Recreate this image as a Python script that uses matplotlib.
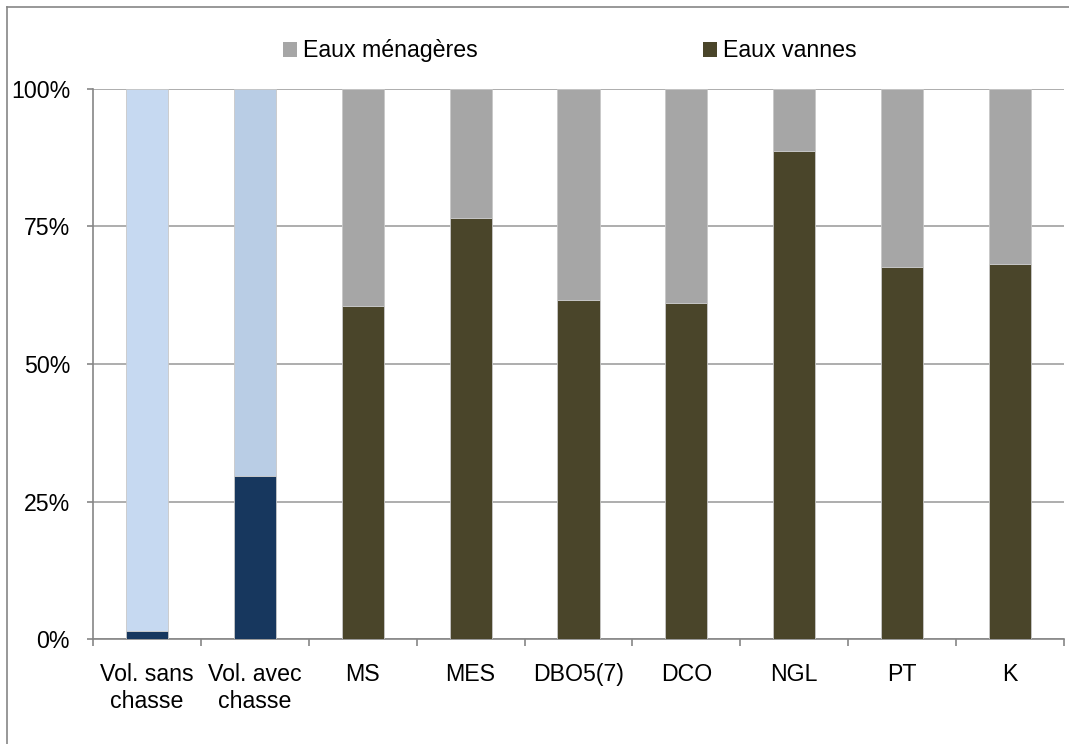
import numpy as np
import matplotlib.pyplot as plt
from matplotlib.lines import Line2D
from matplotlib.patches import Patch

plt.rcParams['font.family'] = ['Liberation Sans', 'DejaVu Sans']

categories = ['Vol. sans\nchasse', 'Vol. avec\nchasse', 'MS', 'MES', 'DBO5(7)', 'DCO', 'NGL', 'PT', 'K']
eaux_vannes = [1.5, 29.6, 60.6, 76.5, 61.6, 61.0, 88.8, 67.6, 68.2]
eaux_menageres = [100 - v for v in eaux_vannes]

bottom_colors = ['#17375E', '#17375E'] + ['#4A452A'] * 7
top_colors = ['#C6D9F1', '#B9CDE5'] + ['#A6A6A6'] * 7

fs = 16.7
fig = plt.figure(figsize=(10.69, 7.44), dpi=100)
ax = fig.add_axes([0.087, 0.1411, 0.9083, 0.7393])

x = np.arange(len(categories))
w = 0.39
ax.bar(x, eaux_vannes, w, color=bottom_colors, edgecolor='#C8C8C8', linewidth=0.6, zorder=3)
ax.bar(x, eaux_menageres, w, bottom=eaux_vannes, color=top_colors, edgecolor='#C8C8C8', linewidth=0.6, zorder=3)

ax.set_xlim(-0.5, len(categories) - 0.5)
ax.set_ylim(0, 100)
ax.set_yticks([0, 25, 50, 75, 100])
ax.set_yticklabels(['0%', '25%', '50%', '75%', '100%'], fontsize=fs)
ax.set_xticks(x)
ax.set_xticklabels(categories, fontsize=fs, linespacing=1.2)
ax.tick_params(axis='x', length=0, pad=17.5)
ax.set_xticks(np.arange(len(categories) + 1) - 0.5, minor=True)
ax.tick_params(axis='x', which='minor', length=5, color='#868686', width=1.2)
ax.tick_params(axis='y', length=4.5, color='#868686', width=1.2, pad=12)

ax.yaxis.grid(True, color='#A0A0A0', linewidth=1.2, zorder=0)
ax.set_axisbelow(True)
for s in ['top', 'right']:
    ax.spines[s].set_visible(False)
for s in ['left', 'bottom']:
    ax.spines[s].set_color('#868686')
    ax.spines[s].set_linewidth(1.2)

handles = [Patch(facecolor='#A6A6A6', label='Eaux ménagères'),
           Patch(facecolor='#4A452A', label='Eaux vannes')]
fig.legend(handles=handles, loc='center', bbox_to_anchor=(0.5332, 0.9315), ncol=2, frameon=False,
           fontsize=fs, handlelength=0.6, handleheight=0.6, handletextpad=0.26, columnspacing=9.7)

# outer chart frame (only left and top edges fall inside the picture)
fig.add_artist(Line2D([0.0065, 0.0065], [0, 0.9906], transform=fig.transFigure, color='#868686', linewidth=1.2))
fig.add_artist(Line2D([0.0065, 1], [0.9906, 0.9906], transform=fig.transFigure, color='#868686', linewidth=1.2))

fig.savefig('out.png', dpi=100)
